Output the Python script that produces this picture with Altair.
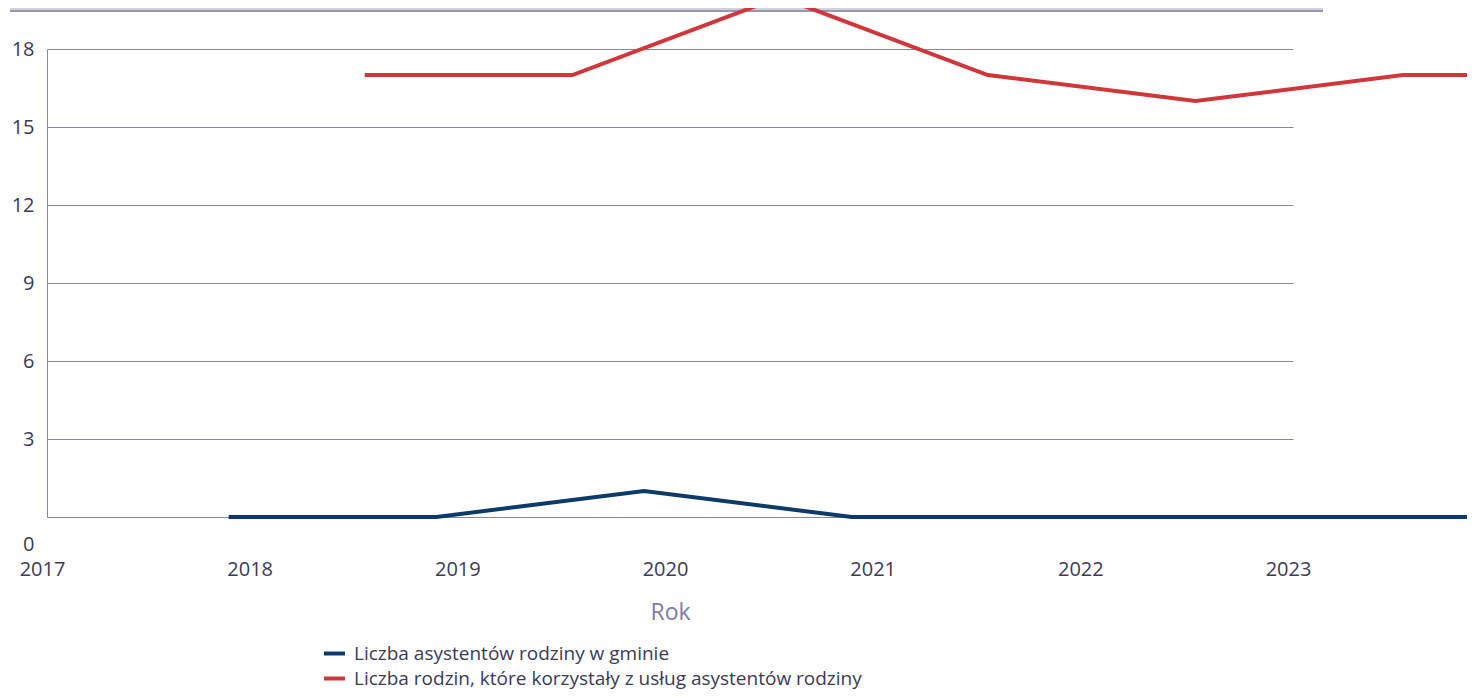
import altair as alt
import pandas as pd

# ---- data ----
years = [2017, 2018, 2019, 2020, 2021, 2022, 2023]
series_names = [
    "Liczba asystentów rodziny w gminie",
    "Liczba rodzin, które korzystały z usług asystentów rodziny",
]
asystenci = [0, 0, 1, 0, 0, 0, 0]
rodziny = [17, 17, 20, 17, 16, 17, 17]
y_ticks = [0, 3, 6, 9, 12, 15, 18]
series_colors = ["#0b3a6b", "#d1363a"]

rows = []
for name, vals in zip(series_names, [asystenci, rodziny]):
    for yr, v in zip(years, vals):
        rows.append({"rok": yr, "seria": name, "wartosc": v})
df = pd.DataFrame(rows)

FONT = "Open Sans"
GRID = "#8686a6"

lines = (
    alt.Chart(df)
    .transform_calculate(
        pos="datum.rok + (datum.seria === '" + series_names[0] + "' ? 0.875 : 1.53)"
    )
    .mark_line(strokeWidth=4, strokeCap="butt", strokeJoin="miter", clip=False)
    .encode(
        x=alt.X(
            "pos:Q",
            scale=alt.Scale(domain=[2017, 2023], nice=False, zero=False),
            axis=alt.Axis(
                values=years,
                format="d",
                title="Rok",
                grid=False,
                ticks=False,
                domainColor=GRID,
                domainWidth=1,
                labelFont=FONT,
                labelFontSize=20,
                labelColor="#3b3b55",
                labelPadding=42,
                labelOffset=-5,
                labelFlush=False,
                labelOverlap=False,
                titleFont=FONT,
                titleFontSize=23,
                titleFontWeight="normal",
                titleColor="#7b7ba8",
                titlePadding=22,
            ),
        ),
        y=alt.Y(
            "wartosc:Q",
            scale=alt.Scale(domain=[0, 18], nice=False, zero=True),
            axis=alt.Axis(
                values=y_ticks,
                title=None,
                ticks=False,
                grid=True,
                gridColor=GRID,
                gridWidth=1,
                domainColor=GRID,
                domainWidth=1,
                labelFont=FONT,
                labelFontSize=20,
                labelColor="#3b3b55",
                labelAlign="right",
                labelBaseline="middle",
                labelPadding=13,
                labelFlush=False,
                labelOverlap=False,
                labelOffset={"condition": {"test": "datum.value === 0", "value": 27}, "value": 0},
            ),
        ),
        color=alt.Color(
            "seria:N",
            scale=alt.Scale(domain=series_names, range=series_colors),
            legend=alt.Legend(
                title=None,
                orient="none",
                legendX=275,
                legendY=592,
                direction="vertical",
                symbolType="stroke",
                symbolSize=441,
                symbolStrokeWidth=4,
                labelFont=FONT,
                labelFontSize=19,
                labelColor="#3b3b55",
                labelOffset=7,
                rowPadding=2,
                padding=0,
                labelLimit=1000,
            ),
        ),
    )
)

top_light = (
    alt.Chart(pd.DataFrame({"k": [0]}))
    .mark_rule(color="#a5a5b8", strokeWidth=1.2)
    .encode(x=alt.value(-37), x2=alt.value(1276), y=alt.value(-40))
)
top_dark = (
    alt.Chart(pd.DataFrame({"k": [0]}))
    .mark_rule(color="#72729c", strokeWidth=1.5)
    .encode(x=alt.value(-37), x2=alt.value(1276), y=alt.value(-38))
)

chart = (
    alt.layer(top_light, top_dark, lines)
    .properties(
        width=1246,
        height=468,
        autosize=alt.AutoSizeParams(type="none"),
        padding={"left": 39, "top": 41, "right": 174, "bottom": 172},
    )
    .configure_view(stroke=None)
)

chart.save("out.html", embed_options={"renderer": "svg", "actions": False})
